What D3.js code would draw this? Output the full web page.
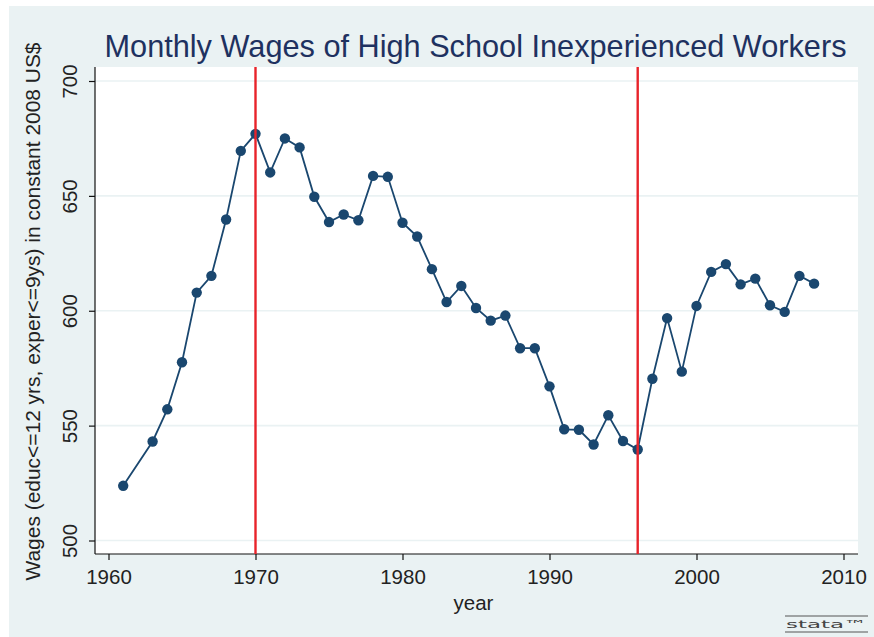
<!DOCTYPE html>
<html>
<head>
<meta charset="utf-8">
<script src="https://cdn.jsdelivr.net/npm/d3@7"></script>
<style>
  body { margin: 0; background: #fff; }
  text { font-family: "Liberation Sans", Arial, sans-serif; }
</style>
</head>
<body>
<div id="chart"></div>
<script>
// Data (1962 is missing in the source)
const years = [1961, 1963, 1964, 1965, 1966, 1967, 1968, 1969, 1970, 1971, 1972, 1973, 1974, 1975,
  1976, 1977, 1978, 1979, 1980, 1981, 1982, 1983, 1984, 1985, 1986, 1987, 1988, 1989, 1990,
  1991, 1992, 1993, 1994, 1995, 1996, 1997, 1998, 1999, 2000, 2001, 2002, 2003, 2004, 2005,
  2006, 2007, 2008];
const wages = [523.8, 543.1, 557.1, 577.6, 607.9, 615.2, 639.7, 669.6, 677.0, 660.2, 675.0, 671.1, 649.6, 638.6,
  641.9, 639.4, 658.7, 658.3, 638.3, 632.3, 618.1, 603.8, 610.8, 601.2, 595.7, 597.9, 583.7, 583.7, 567.1,
  548.4, 548.2, 541.8, 554.5, 543.3, 539.6, 570.4, 596.8, 573.5, 602.1, 616.9, 620.3, 611.5, 614.0, 602.4,
  599.5, 615.2, 611.8];
const breakYears = [1970, 1996];
const xTicks = [1960, 1970, 1980, 1990, 2000, 2010];
const yTicks = [500, 550, 600, 650, 700];

const width = 874, height = 637;
const navy = "#1a476f";
const bg = "#eaf2f3";

// plot region box
const box = {left: 95, right: 858, top: 67, bottom: 554};

const svg = d3.select("#chart").append("svg")
  .attr("width", width)
  .attr("height", height);

// outer graph background
svg.append("rect")
  .attr("x", 9).attr("y", 6)
  .attr("width", width - 9).attr("height", height - 6)
  .attr("fill", bg);

// white plot region
svg.append("rect")
  .attr("x", box.left).attr("y", box.top)
  .attr("width", box.right - box.left).attr("height", box.bottom - box.top)
  .attr("fill", "#fff");

const x = d3.scaleLinear().domain([1960, 2010]).range([108.5, 843.5]);
const y = d3.scaleLinear().domain([500, 700]).range([540.5, 81]);

// gridlines
svg.append("g").selectAll("line")
  .data(yTicks)
  .enter().append("line")
  .attr("x1", box.left).attr("x2", box.right)
  .attr("y1", d => y(d)).attr("y2", d => y(d))
  .attr("stroke", bg)
  .attr("stroke-width", 1.6);

// y axis
const yAxis = svg.append("g")
  .attr("transform", "translate(" + box.left + ",0)")
  .call(d3.axisLeft(y).tickValues(yTicks).tickSize(6).tickSizeOuter(0).tickFormat(d3.format("d")));
yAxis.attr("font-family", null).attr("font-size", null);
yAxis.select(".domain").attr("d", "M0," + box.top + "V" + box.bottom).attr("stroke", "#111").attr("stroke-width", 1.2);
yAxis.selectAll(".tick line").attr("stroke", "#111").attr("stroke-width", 1.2);
yAxis.selectAll(".tick text")
  .attr("x", null).attr("dy", null)
  .attr("transform", "translate(-25,0) rotate(-90)")
  .attr("text-anchor", "middle")
  .attr("dy", "0.35em")
  .style("font-size", "20.5px")
  .style("fill", "#222");

// x axis
const xAxis = svg.append("g")
  .attr("transform", "translate(0," + box.bottom + ")")
  .call(d3.axisBottom(x).tickValues(xTicks).tickSize(6).tickSizeOuter(0).tickFormat(d3.format("d")));
xAxis.attr("font-family", null).attr("font-size", null);
xAxis.select(".domain").attr("d", "M" + box.left + ",0H" + box.right).attr("stroke", "#111").attr("stroke-width", 1.2);
xAxis.selectAll(".tick line").attr("stroke", "#111").attr("stroke-width", 1.2);
xAxis.selectAll(".tick text")
  .attr("y", 15)
  .style("font-size", "20.5px")
  .style("fill", "#222");

// series line + markers
const line = d3.line().x((d, i) => x(years[i])).y(d => y(d));
svg.append("path")
  .datum(wages)
  .attr("d", line)
  .attr("fill", "none")
  .attr("stroke", navy)
  .attr("stroke-width", 1.8);

svg.append("g").selectAll("circle")
  .data(wages)
  .enter().append("circle")
  .attr("cx", (d, i) => x(years[i]))
  .attr("cy", d => y(d))
  .attr("r", 5.2)
  .attr("fill", navy);

// vertical break lines
svg.append("g").selectAll("line")
  .data(breakYears)
  .enter().append("line")
  .attr("x1", d => x(d)).attr("x2", d => x(d))
  .attr("y1", box.top).attr("y2", box.bottom)
  .attr("stroke", "#e8232a")
  .attr("stroke-width", 2.4);

// title
svg.append("text")
  .attr("x", (box.left + box.right) / 2 - 1)
  .attr("y", 57)
  .attr("text-anchor", "middle")
  .style("font-size", "30.7px")
  .style("fill", "#1e3160")
  .text("Monthly Wages of High School Inexperienced Workers");

// axis titles
svg.append("text")
  .attr("transform", "translate(40," + ((box.top + box.bottom) / 2 + 1) + ") rotate(-90)")
  .attr("text-anchor", "middle")
  .attr("textLength", 538)
  .attr("lengthAdjust", "spacingAndGlyphs")
  .style("font-size", "20.5px")
  .style("fill", "#222")
  .text("Wages (educ<=12 yrs, exper<=9ys) in constant 2008 US$");

svg.append("text")
  .attr("x", (box.left + box.right) / 2 - 3)
  .attr("y", 610)
  .attr("text-anchor", "middle")
  .style("font-size", "20.5px")
  .style("fill", "#222")
  .text("year");

// stata logo, bottom right
const logo = svg.append("g").attr("transform", "translate(785,616)");
logo.append("line").attr("x1", 0).attr("x2", 83).attr("y1", 0).attr("y2", 0).attr("stroke", "#555").attr("stroke-width", 1);
logo.append("line").attr("x1", 0).attr("x2", 83).attr("y1", 16).attr("y2", 16).attr("stroke", "#555").attr("stroke-width", 1);
logo.append("text")
  .attr("x", 1).attr("y", 12)
  .attr("textLength", 81)
  .attr("lengthAdjust", "spacingAndGlyphs")
  .style("font-family", "'DejaVu Sans', sans-serif")
  .style("font-size", "11px")
  .style("fill", "#444")
  .text("stata\u2122");
</script>
</body>
</html>
